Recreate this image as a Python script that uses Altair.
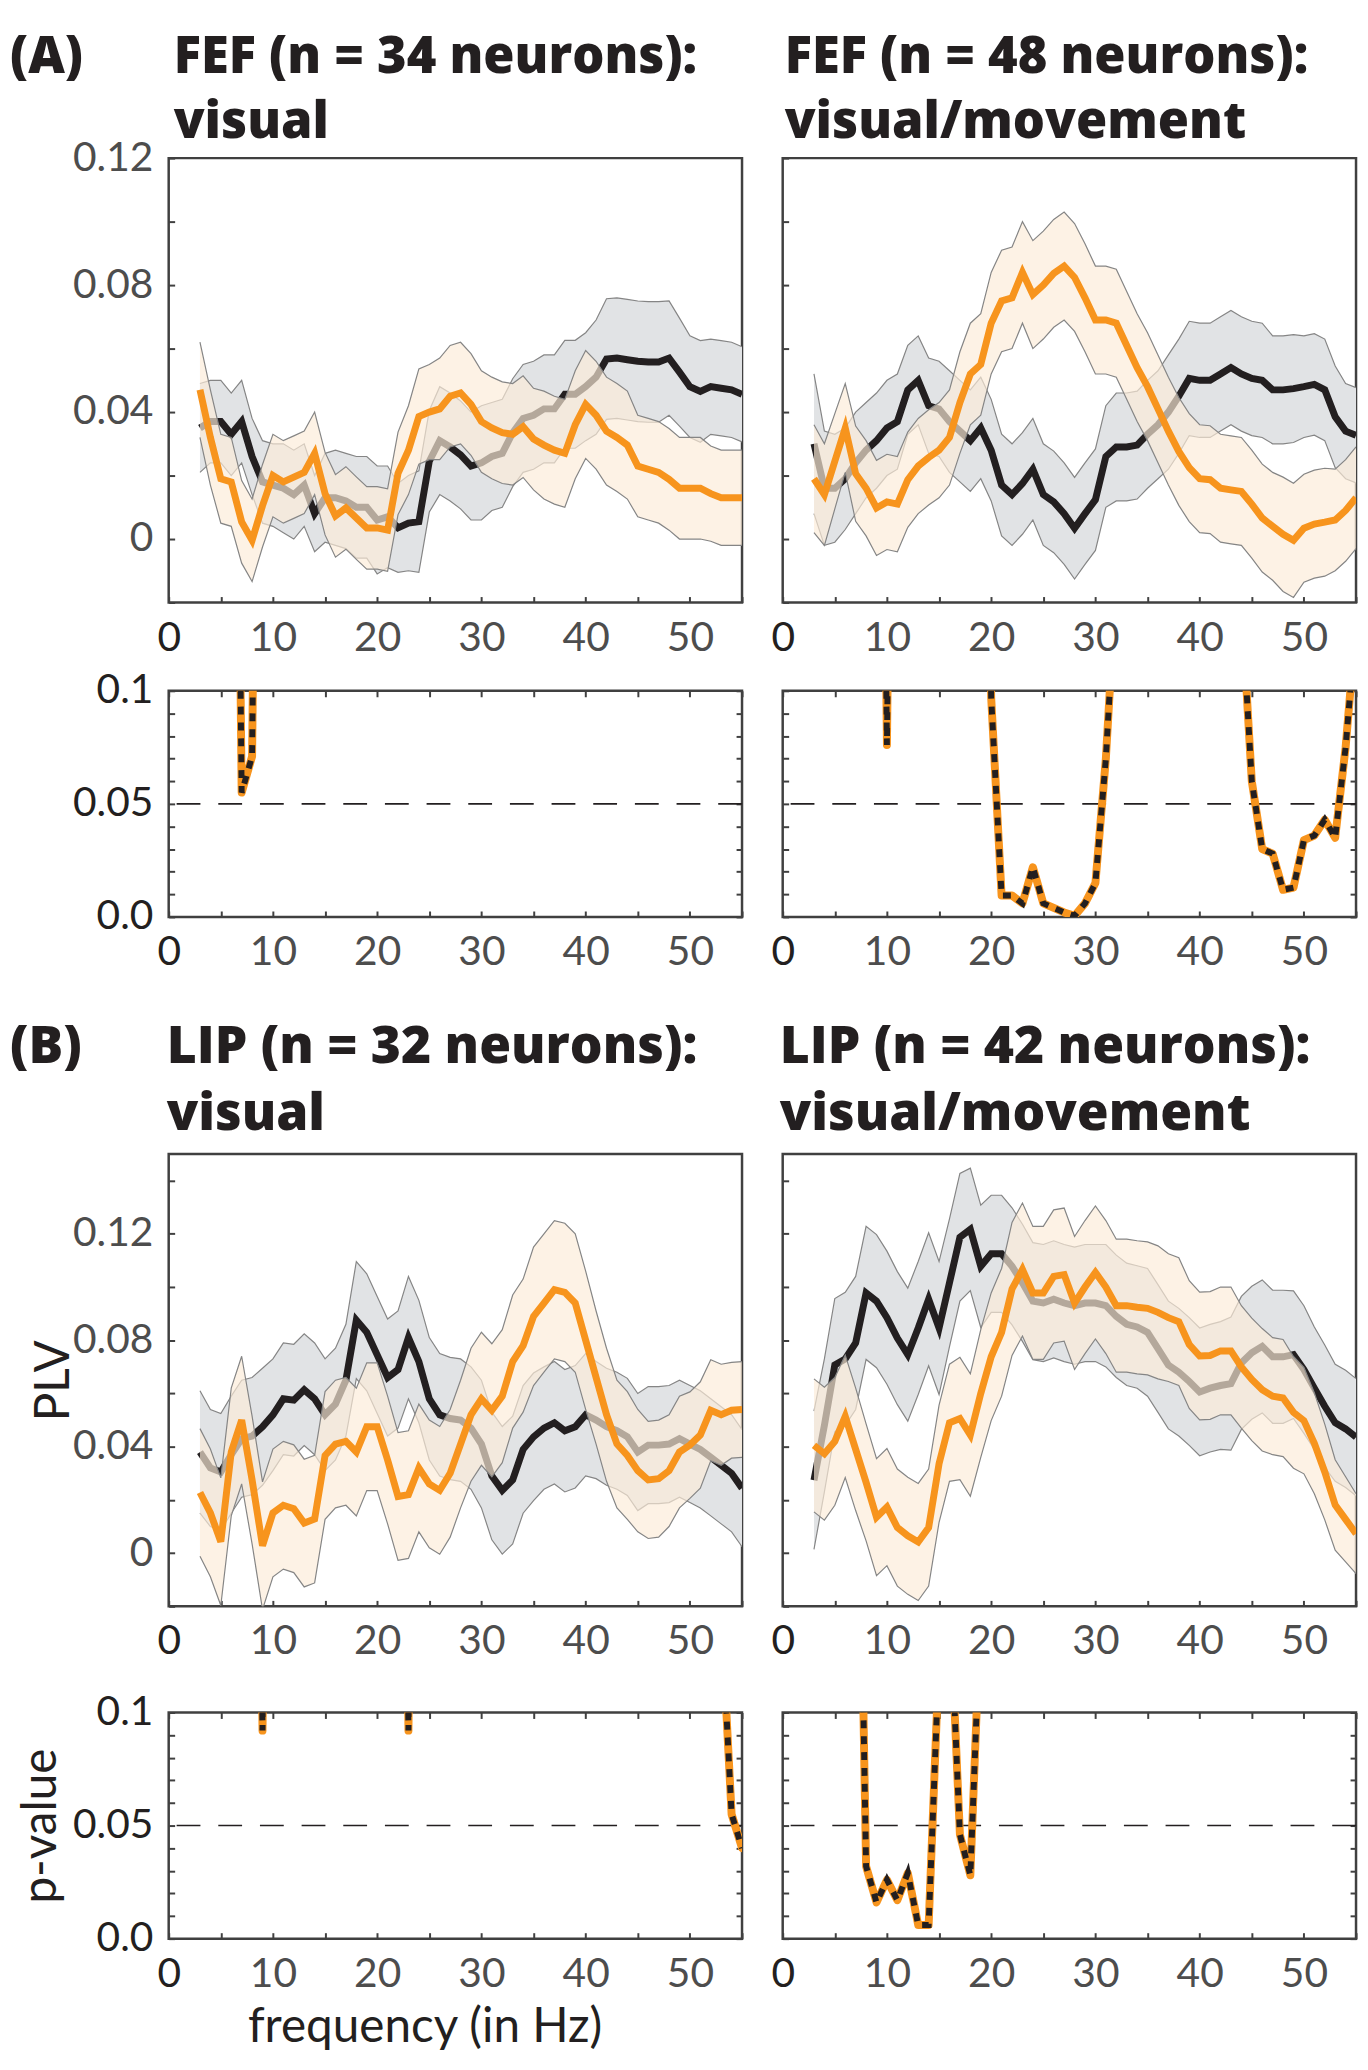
import altair as alt
import pandas as pd

# ---------------- data ----------------
FREQ = list(range(3, 56))

# (A) FEF visual, n = 34
FEF_VIS_BLACK = [0.035, 0.037, 0.037, 0.033, 0.037, 0.026, 0.018, 0.017, 0.016, 0.014,
                 0.017, 0.008, 0.013, 0.013, 0.012, 0.010, 0.010, 0.006, 0.007, 0.0035,
                 0.005, 0.0055, 0.0245, 0.031, 0.029, 0.0265, 0.023, 0.024, 0.026, 0.027,
                 0.0335, 0.038, 0.039, 0.041, 0.041, 0.0456, 0.0456, 0.048, 0.051, 0.0567,
                 0.057, 0.0565, 0.056, 0.0558, 0.0558, 0.057, 0.0526, 0.048, 0.0465, 0.048,
                 0.0475, 0.047, 0.0456]
FEF_VIS_BLACK_SEM = [0.014, 0.013, 0.013, 0.013, 0.013, 0.012, 0.013, 0.013, 0.014, 0.014, 0.013, 0.012,
                     0.014, 0.015, 0.015, 0.016, 0.016, 0.017, 0.016, 0.014, 0.015, 0.016,
                     0.016, 0.017, 0.017, 0.017, 0.017, 0.018, 0.017, 0.017, 0.017, 0.017, 0.017, 0.017,
                     0.017, 0.017, 0.017, 0.017,
                     0.018, 0.019, 0.019, 0.019, 0.019, 0.019, 0.019,
                     0.018, 0.017, 0.016, 0.016, 0.015, 0.015, 0.015, 0.015]
FEF_VIS_ORANGE = [0.047, 0.032, 0.019, 0.018, 0.0054, -0.0004, 0.0105, 0.020, 0.018, 0.0195,
                  0.021, 0.027, 0.0143, 0.0073, 0.0098, 0.0066, 0.0035, 0.0035, 0.0028, 0.0207,
                  0.028, 0.0386, 0.040, 0.041, 0.045, 0.046, 0.0424, 0.037, 0.035, 0.0335,
                  0.033, 0.0354, 0.0315, 0.0296, 0.028, 0.027, 0.036, 0.0424, 0.039, 0.034,
                  0.032, 0.0296, 0.023, 0.022, 0.021, 0.0188, 0.016, 0.016, 0.016, 0.0143,
                  0.013, 0.013, 0.013]
FEF_VIS_ORANGE_SEM = [0.015, 0.015, 0.014, 0.014, 0.013, 0.013, 0.013, 0.013, 0.013, 0.013, 0.013, 0.013,
                      0.013, 0.013, 0.013, 0.013, 0.013, 0.013, 0.013, 0.013, 0.014, 0.015,
                      0.015, 0.016, 0.016, 0.016, 0.016, 0.016, 0.016, 0.016, 0.016, 0.016, 0.016, 0.017,
                      0.017, 0.017, 0.017, 0.017,
                      0.017, 0.017, 0.017, 0.017, 0.016, 0.016, 0.016,
                      0.016, 0.016, 0.016, 0.016, 0.015, 0.015, 0.015, 0.015]

# (A) FEF visual/movement, n = 48
FEF_VM_BLACK = [0.030, 0.016, 0.016, 0.019, 0.024, 0.028, 0.031, 0.035, 0.037, 0.047,
                0.050, 0.042, 0.041, 0.037, 0.034, 0.031, 0.035, 0.028, 0.017, 0.014,
                0.0175, 0.022, 0.014, 0.0117, 0.008, 0.0034, 0.008, 0.0124, 0.026, 0.029,
                0.029, 0.0296, 0.033, 0.036, 0.040, 0.045, 0.0506, 0.050, 0.050, 0.052,
                0.054, 0.052, 0.0506, 0.050, 0.047, 0.047, 0.0474, 0.048, 0.0487, 0.047,
                0.0385, 0.034, 0.0327]
FEF_VM_BLACK_SEM = [0.022, 0.018, 0.017, 0.016, 0.016, 0.015, 0.015, 0.015, 0.015, 0.014, 0.014, 0.015,
                    0.015, 0.016, 0.016, 0.016, 0.016, 0.016, 0.016, 0.016, 0.016, 0.016,
                    0.016, 0.016, 0.016, 0.016, 0.016, 0.016, 0.016, 0.017, 0.017, 0.017, 0.017, 0.017,
                    0.018, 0.018, 0.018, 0.018,
                    0.018, 0.018, 0.018, 0.018, 0.018, 0.018, 0.017,
                    0.017, 0.017, 0.016, 0.016, 0.016, 0.016, 0.015, 0.015]
FEF_VM_ORANGE = [0.019, 0.014, 0.0245, 0.035, 0.0206, 0.016, 0.0098, 0.0117, 0.011, 0.0187,
                 0.023, 0.0257, 0.028, 0.032, 0.043, 0.052, 0.055, 0.068, 0.075, 0.076,
                 0.084, 0.077, 0.080, 0.0837, 0.086, 0.0824, 0.076, 0.069, 0.069, 0.068,
                 0.061, 0.054, 0.048, 0.041, 0.034, 0.0276, 0.0225, 0.019, 0.0187, 0.016,
                 0.0155, 0.015, 0.011, 0.0066, 0.004, 0.0015, -0.0004, 0.0034, 0.0047, 0.0053,
                 0.006, 0.009, 0.013]
FEF_VM_ORANGE_SEM = [0.017, 0.016, 0.015, 0.014, 0.015, 0.015, 0.015, 0.015, 0.015, 0.015, 0.015, 0.015,
                     0.015, 0.015, 0.016, 0.016, 0.016, 0.016, 0.016, 0.016, 0.016, 0.017,
                     0.017, 0.017, 0.017, 0.017, 0.017, 0.017, 0.017, 0.017, 0.017, 0.017, 0.017, 0.017,
                     0.017, 0.017, 0.017, 0.017,
                     0.017, 0.017, 0.017, 0.017, 0.017, 0.017, 0.017,
                     0.018, 0.018, 0.017, 0.017, 0.017, 0.016, 0.016, 0.016]

# (B) LIP visual, n = 32
LIP_VIS_BLACK = [0.038, 0.032, 0.0305, 0.037, 0.043, 0.044, 0.0475, 0.052, 0.058, 0.0575,
                 0.0614, 0.058, 0.052, 0.056, 0.065, 0.0876, 0.083, 0.0745, 0.066, 0.069,
                 0.081, 0.072, 0.058, 0.052, 0.0506, 0.050, 0.047, 0.041, 0.029, 0.0236,
                 0.0275, 0.039, 0.0437, 0.047, 0.049, 0.046, 0.0475, 0.052, 0.050, 0.0475,
                 0.046, 0.0437, 0.038, 0.0406, 0.0406, 0.041, 0.043, 0.041, 0.039, 0.036,
                 0.033, 0.030, 0.0244]
LIP_VIS_BLACK_SEM = [0.023, 0.022, 0.022, 0.022, 0.022, 0.022, 0.022, 0.021, 0.021, 0.021, 0.021, 0.021,
                     0.021, 0.021, 0.021, 0.022, 0.022, 0.022, 0.022, 0.022, 0.023, 0.023,
                     0.023, 0.023, 0.023, 0.023, 0.023, 0.024, 0.024, 0.024, 0.024, 0.024, 0.024, 0.023,
                     0.023, 0.023, 0.023, 0.023,
                     0.022, 0.022, 0.022, 0.022, 0.022, 0.022, 0.022,
                     0.022, 0.022, 0.022, 0.022, 0.022, 0.022, 0.022, 0.022]
LIP_VIS_ORANGE = [0.0228, 0.0151, 0.0043, 0.038, 0.050, 0.0275, 0.0028, 0.0151, 0.018, 0.0167,
                  0.0113, 0.0128, 0.0367, 0.041, 0.042, 0.038, 0.0475, 0.0475, 0.035, 0.0213,
                  0.022, 0.032, 0.026, 0.0236, 0.030, 0.041, 0.052, 0.058, 0.0537, 0.059,
                  0.072, 0.078, 0.089, 0.094, 0.099, 0.098, 0.094, 0.080, 0.066, 0.052,
                  0.041, 0.0367, 0.031, 0.0275, 0.028, 0.031, 0.038, 0.0406, 0.0444, 0.0537,
                  0.052, 0.0537, 0.054]
LIP_VIS_ORANGE_SEM = [0.024, 0.024, 0.024, 0.024, 0.024, 0.024, 0.024, 0.024, 0.024, 0.024, 0.024, 0.024,
                      0.024, 0.024, 0.024, 0.024, 0.024, 0.024, 0.024, 0.024, 0.024, 0.024,
                      0.024, 0.024, 0.024, 0.024, 0.025, 0.025, 0.025, 0.025, 0.025, 0.025, 0.026, 0.026,
                      0.026, 0.026, 0.026, 0.026,
                      0.025, 0.025, 0.024, 0.024, 0.023, 0.022, 0.022,
                      0.021, 0.021, 0.020, 0.020, 0.019, 0.019, 0.018, 0.018]

# (B) LIP visual/movement, n = 42
LIP_VM_BLACK = [0.0274, 0.048, 0.0707, 0.073, 0.079, 0.0978, 0.0947, 0.0885, 0.0808, 0.0746,
                0.0846, 0.0954, 0.0846, 0.1016, 0.1187, 0.1217, 0.1078, 0.1125, 0.1125, 0.1078,
                0.1016, 0.0947, 0.094, 0.0954, 0.094, 0.093, 0.094, 0.094, 0.093, 0.089,
                0.086, 0.085, 0.083, 0.0769, 0.0707, 0.068, 0.0645, 0.0606, 0.062, 0.063,
                0.0637, 0.0715, 0.0753, 0.0777, 0.0738, 0.0738, 0.0746, 0.069, 0.062, 0.0552,
                0.049, 0.0467, 0.0436]
LIP_VM_BLACK_SEM = [0.026, 0.025, 0.025, 0.025, 0.025, 0.025, 0.025, 0.025, 0.025, 0.025, 0.025, 0.025,
                    0.025, 0.024, 0.024, 0.023, 0.023, 0.022, 0.022, 0.022, 0.022, 0.022,
                    0.022, 0.022, 0.022, 0.022, 0.022, 0.022, 0.023, 0.023, 0.023, 0.023, 0.024, 0.024,
                    0.024, 0.024, 0.024, 0.024,
                    0.024, 0.024, 0.025, 0.025, 0.025, 0.025, 0.025,
                    0.025, 0.024, 0.024, 0.023, 0.023, 0.022, 0.022, 0.022]
LIP_VM_ORANGE = [0.0405, 0.0374, 0.042, 0.0514, 0.039, 0.0266, 0.0135, 0.0173, 0.0096, 0.0065,
                 0.0042, 0.0096, 0.0336, 0.049, 0.0506, 0.0444, 0.060, 0.0738, 0.083, 0.0993,
                 0.1066, 0.0978, 0.0978, 0.104, 0.1047, 0.094, 0.100, 0.1055, 0.100, 0.093,
                 0.093, 0.0924, 0.092, 0.0905, 0.0885, 0.087, 0.0784, 0.0741, 0.0743, 0.076,
                 0.076, 0.070, 0.0653, 0.0614, 0.059, 0.0583, 0.0529, 0.0498, 0.0413, 0.0305,
                 0.0181, 0.0127, 0.0073]
LIP_VM_ORANGE_SEM = [0.025, 0.025, 0.024, 0.023, 0.023, 0.022, 0.022, 0.022, 0.022, 0.022, 0.022, 0.022,
                     0.022, 0.022, 0.023, 0.023, 0.024, 0.024, 0.024, 0.025, 0.025, 0.025,
                     0.025, 0.025, 0.025, 0.025, 0.025, 0.025, 0.025, 0.025, 0.025, 0.025, 0.025, 0.025,
                     0.024, 0.024, 0.024, 0.024,
                     0.024, 0.024, 0.024, 0.023, 0.023, 0.023, 0.022,
                     0.022, 0.021, 0.020, 0.019, 0.018, 0.017, 0.016, 0.015]

# p-values (only the stretches that come into the 0-0.1 window)
P_FEF_VIS_FREQ = [6, 7, 8, 9]
P_FEF_VIS = [0.5, 0.055, 0.071, 0.5]
P_FEF_VM_FREQ = [9, 10, 11,
                 19, 20, 21, 22, 23, 24, 25, 26, 27, 28, 29, 30, 31, 32,
                 44, 45, 46, 47, 48, 49, 50, 51, 52, 53, 54, 55]
P_FEF_VM = [0.5, 0.076, 0.5,
            0.5, 0.097, 0.0095, 0.0095, 0.006, 0.022, 0.006, 0.004, 0.002, 0.0005, 0.006, 0.015, 0.07, 0.15,
            0.14, 0.06, 0.03, 0.028, 0.012, 0.013, 0.034, 0.036, 0.043, 0.035, 0.075, 0.13]
P_LIP_VIS_FREQ = [8, 9, 10, 22, 23, 24, 53, 54, 55]
P_LIP_VIS = [0.5, 0.092, 0.5, 0.5, 0.092, 0.5, 0.145, 0.055, 0.04]
P_LIP_VM_FREQ = [7, 8, 9, 10, 11, 12, 13, 14, 15, 16, 17, 18, 19]
P_LIP_VM = [0.3, 0.032, 0.016, 0.026, 0.017, 0.029, 0.006, 0.006, 0.125, 0.154, 0.046, 0.028, 0.148]
THRESHOLD = 0.05

TITLES = {
    "A_left": ["FEF (n = 34 neurons):", "visual"],
    "A_right": ["FEF (n = 48 neurons):", "visual/movement"],
    "B_left": ["LIP (n = 32 neurons):", "visual"],
    "B_right": ["LIP (n = 42 neurons):", "visual/movement"],
}

for arr in [FEF_VIS_BLACK, FEF_VIS_BLACK_SEM, FEF_VIS_ORANGE, FEF_VIS_ORANGE_SEM,
            FEF_VM_BLACK, FEF_VM_BLACK_SEM, FEF_VM_ORANGE, FEF_VM_ORANGE_SEM,
            LIP_VIS_BLACK, LIP_VIS_BLACK_SEM, LIP_VIS_ORANGE, LIP_VIS_ORANGE_SEM,
            LIP_VM_BLACK, LIP_VM_BLACK_SEM, LIP_VM_ORANGE, LIP_VM_ORANGE_SEM]:
    assert len(arr) == len(FREQ), len(arr)

# ---------------- style ----------------
FONT = "Lato"
TITLE_FONT = "Open Sans"
BLACK = "#231f20"
ORANGE = "#f7941d"
FRAME = "#404040"
LABEL_GRAY = "#4d4d4d"
BAND_BLACK = "#e1e3e5"
BAND_ORANGE = "#fcecd8"
OUTLINE = "#858585"

W = 578
H_TOP_A = 448
H_TOP_B = 456
H_P = 228
TICK = 6

ONE = pd.DataFrame({"v": [0]})
THR_DF = pd.DataFrame({"thr": [THRESHOLD]})
XS = alt.Scale(domain=[0, 55], nice=False, zero=False)


def band_df(blk, blk_sem, org, org_sem):
    return pd.DataFrame({
        "freq": FREQ,
        "blk": blk,
        "blk_lo": [m - s for m, s in zip(blk, blk_sem)],
        "blk_hi": [m + s for m, s in zip(blk, blk_sem)],
        "org": org,
        "org_lo": [m - s for m, s in zip(org, org_sem)],
        "org_hi": [m + s for m, s in zip(org, org_sem)],
    })


def p_df(freqs, vals):
    seg, segs = 0, []
    for i, f in enumerate(freqs):
        if i > 0 and f - freqs[i - 1] > 1:
            seg += 1
        segs.append(seg)
    return pd.DataFrame({"freq": freqs, "p": vals, "seg": segs})


def x_axis(orient="bottom", labels=True, title=None):
    kw = dict(orient=orient, values=list(range(0, 56, 5)), domain=False, grid=False,
              ticks=True, tickSize=TICK, tickWidth=2, tickColor=FRAME, offset=-TICK,
              labelFlush=False, labelOverlap=False)
    if labels:
        kw.update(labelExpr="datum.value % 10 === 0 ? datum.label : ''",
                  labelFont=FONT, labelFontSize=41, labelPadding=16,
                  labelColor={"condition": {"test": "datum.value === 0", "value": BLACK},
                              "value": LABEL_GRAY})
    else:
        kw.update(labels=False)
    if title:
        kw.update(title=title, titleFont=FONT, titleFontSize=48, titleFontWeight="normal",
                  titleColor=BLACK, titleX=258, titleY=110, titleAlign="center",
                  titleBaseline="alphabetic")
    else:
        kw.update(title=None)
    return alt.Axis(**kw)


def y_axis(values, expr, color, orient="left", labels=True, title=None, title_x=-121, height=456):
    kw = dict(orient=orient, values=values, domain=False, grid=False,
              ticks=True, tickSize=TICK, tickWidth=2, tickColor=FRAME, offset=-TICK,
              labelOverlap=False)
    if labels:
        kw.update(labelExpr=expr, labelFont=FONT, labelFontSize=41, labelPadding=16,
                  labelColor=color)
    else:
        kw.update(labels=False)
    if title:
        kw.update(title=title, titleFont=FONT, titleFontSize=48, titleFontWeight="normal",
                  titleColor=BLACK, titleX=title_x, titleY=height / 2, titleAngle=270,
                  titleAlign="center", titleBaseline="middle")
    else:
        kw.update(title=None)
    return alt.Axis(**kw)


def text_layer(lines, x, y, lh, size):
    return alt.Chart(ONE).mark_text(
        text=lines, align="left", baseline="alphabetic", font=TITLE_FONT, fontSize=size,
        fontWeight=800, lineHeight=lh, color=BLACK
    ).encode(x=alt.value(x), y=alt.value(y))


def top_panel(df, ydom, yticks, title_lines, title_x, height, letter=None, left=True,
              ytitle=None, base_y=-92, lh=68, size=52):
    ys = alt.Scale(domain=ydom, nice=False, zero=False)
    expr = ("datum.value === 0 ? '0' : (datum.value === 0.04 || datum.value === 0.08 || "
            "datum.value === 0.12) ? format(datum.value, '.2f') : ''")
    yax = y_axis(yticks, expr, LABEL_GRAY, labels=left, title=ytitle, title_x=-121, height=height)
    base = alt.Chart(df)
    X0 = alt.X("freq:Q", scale=XS, axis=None)

    def Y0(field):
        return alt.Y(field, type="quantitative", scale=ys, axis=None)

    layers = [
        base.mark_area(color=BAND_BLACK, clip=True).encode(x=X0, y=Y0("blk_lo"), y2="blk_hi:Q"),
        base.mark_line(color=OUTLINE, strokeWidth=1.2, clip=True).encode(x=X0, y=Y0("blk_lo")),
        base.mark_line(color=OUTLINE, strokeWidth=1.2, clip=True).encode(x=X0, y=Y0("blk_hi")),
        base.mark_line(color=BLACK, strokeWidth=7, clip=True).encode(x=X0, y=Y0("blk")),
        base.mark_area(color=BAND_ORANGE, opacity=0.67, clip=True).encode(
            x=X0, y=Y0("org_lo"), y2="org_hi:Q"),
        base.mark_line(color=OUTLINE, strokeWidth=1.2, clip=True).encode(x=X0, y=Y0("org_lo")),
        base.mark_line(color=OUTLINE, strokeWidth=1.2, clip=True).encode(x=X0, y=Y0("org_hi")),
        base.mark_line(color=ORANGE, strokeWidth=7, clip=True).encode(x=X0, y=Y0("org")),
        # invisible layer that carries the axes
        base.mark_point(opacity=0).encode(
            x=alt.X("freq:Q", scale=XS, axis=x_axis()),
            y=alt.Y("blk:Q", scale=ys, axis=yax)),
        text_layer(title_lines, title_x, base_y, lh, size),
    ]
    if letter:
        layers.append(text_layer([letter], -160, base_y, lh, size))
    return (alt.layer(*layers)
            .resolve_axis(x="independent", y="independent")
            .properties(width=W, height=height))


def p_panel(freqs, vals, left=True, xtitle=None, ytitle=None):
    df = p_df(freqs, vals)
    ys = alt.Scale(domain=[0, 0.1], nice=False, zero=False)
    pticks = [0, 0.01, 0.02, 0.03, 0.04, 0.05, 0.06, 0.07, 0.08, 0.09, 0.1]
    expr = ("datum.value === 0.1 ? '0.1' : datum.value === 0.05 ? '0.05' : "
            "datum.value === 0 ? '0.0' : ''")
    yax = y_axis(pticks, expr, BLACK, labels=left, title=ytitle, title_x=-134, height=H_P)
    rule = alt.Chart(THR_DF).mark_rule(color=BLACK, strokeWidth=1.6, strokeDash=[24, 18]).encode(
        y=alt.Y("thr:Q", scale=ys, axis=None))
    org = alt.Chart(df).mark_line(color=ORANGE, strokeWidth=8, strokeCap="round",
                                  strokeJoin="round", clip=True).encode(
        x=alt.X("freq:Q", scale=XS, axis=x_axis(title=xtitle)),
        y=alt.Y("p:Q", scale=ys, axis=yax), detail="seg:N")
    blk = alt.Chart(df).mark_line(color=BLACK, strokeWidth=6, strokeDash=[8, 8], clip=True).encode(
        x=alt.X("freq:Q", scale=XS, axis=None),
        y=alt.Y("p:Q", scale=ys, axis=None), detail="seg:N")
    # invisible layer (only in-window points) that carries the mirrored top/right ticks
    mirror = alt.Chart(df).transform_filter("datum.p <= 0.1").mark_point(opacity=0).encode(
        x=alt.X("freq:Q", scale=XS, axis=x_axis(orient="top", labels=False)),
        y=alt.Y("p:Q", scale=ys, axis=y_axis(pticks, expr, BLACK, orient="right", labels=False)))
    return (alt.layer(rule, org, blk, mirror)
            .resolve_axis(x="independent", y="independent")
            .properties(width=W, height=H_P))


def spacer(h):
    return alt.Chart(ONE).mark_point(opacity=0).encode(
        x=alt.X("v:Q", axis=None), y=alt.Y("v:Q", axis=None)
    ).properties(width=W, height=h, view=alt.ViewBackground(stroke="transparent"))


A_TICKS = [-0.02, 0, 0.02, 0.04, 0.06, 0.08, 0.1, 0.12]
B_TICKS = [-0.02, 0, 0.02, 0.04, 0.06, 0.08, 0.1, 0.12, 0.14]

a_left = top_panel(band_df(FEF_VIS_BLACK, FEF_VIS_BLACK_SEM, FEF_VIS_ORANGE, FEF_VIS_ORANGE_SEM),
                   [-0.02, 0.12], A_TICKS, TITLES["A_left"], 5, H_TOP_A, letter="(A)",
                   base_y=-86, lh=66, size=51)
a_right = top_panel(band_df(FEF_VM_BLACK, FEF_VM_BLACK_SEM, FEF_VM_ORANGE, FEF_VM_ORANGE_SEM),
                    [-0.02, 0.12], A_TICKS, TITLES["A_right"], 2, H_TOP_A, left=False,
                    base_y=-86, lh=66, size=51)
b_left = top_panel(band_df(LIP_VIS_BLACK, LIP_VIS_BLACK_SEM, LIP_VIS_ORANGE, LIP_VIS_ORANGE_SEM),
                   [-0.02, 0.15], B_TICKS, TITLES["B_left"], -2, H_TOP_B, letter="(B)",
                   ytitle="PLV")
b_right = top_panel(band_df(LIP_VM_BLACK, LIP_VM_BLACK_SEM, LIP_VM_ORANGE, LIP_VM_ORANGE_SEM),
                    [-0.02, 0.15], B_TICKS, TITLES["B_right"], -3, H_TOP_B, left=False)

pa_left = p_panel(P_FEF_VIS_FREQ, P_FEF_VIS)
pa_right = p_panel(P_FEF_VM_FREQ, P_FEF_VM, left=False)
pb_left = p_panel(P_LIP_VIS_FREQ, P_LIP_VIS, xtitle="frequency (in Hz)", ytitle="p-value")
pb_right = p_panel(P_LIP_VM_FREQ, P_LIP_VM, left=False)

chart = alt.concat(
    a_left, a_right,
    spacer(89), spacer(89),
    pa_left, pa_right,
    spacer(239), spacer(239),
    b_left, b_right,
    spacer(107), spacer(107),
    pb_left, pb_right,
    columns=2,
    spacing=alt.RowColnumber(row=0, column=41),
    bounds="flush",
).properties(
    padding={"top": 14, "bottom": 0, "left": 0, "right": 0}, background="white"
).configure_view(
    stroke=FRAME, strokeWidth=2.5
)

chart.save("out.html", embed_options={"renderer": "svg", "actions": False})
